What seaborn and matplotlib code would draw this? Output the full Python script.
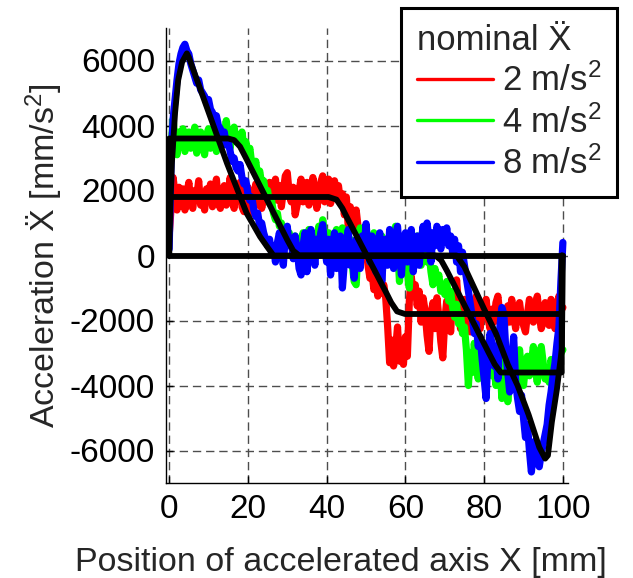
import numpy as np
import pandas as pd
import matplotlib
matplotlib.use("Agg")
import matplotlib.pyplot as plt
import seaborn as sns

# ---------------- data ----------------
series_labels = ["2 m/s$^2$", "4 m/s$^2$", "8 m/s$^2$"]
series_colors = ["#ff0000", "#00ff00", "#0000ff"]

# measured accelerations sampled every 0.5 mm from 0 to 100 mm
pos_mm = np.linspace(0, 100, 201)

acc_2 = [
    600, 1500, 2400, 1900, 1400, 2100, 1600, 2050, 1400, 1900,
    2250, 1650, 1450, 2000, 1800, 2300, 1550, 1900, 1400, 2050,
    1700, 2200, 1500, 1850, 2350, 1600, 1450, 1950, 2150, 1550,
    1850, 2400, 1650, 1450, 2050, 1800, 2250, 1500, 1350, 1900,
    2100, 1600, 1300, 1800, 2200, 1550, 1950, 1450, 1750, 2150,
    1800, 2250, 1600, 1900, 2350, 1700, 2150, 1500, 2000, 2450,
    2550, 1900, 1650, 2100, 1250, 1550, 2000, 2350, 1650, 1900,
    2250, 1550, 1850, 2400, 1950, 1450, 1800, 2250, 2450, 1650,
    2000, 2350, 1600, 1900, 2300, 1750, 2150, 1650, 1900, 1250,
    1800, 850, 1500, 1150, 1000, 1400, 850, 600, 800, 300,
    200, -300, -700, -500, -1050, -800, -1250, -650, -1150, -900,
    -1300, -2200, -3300, -2600, -3400, -2900, -2200, -3250, -2700, -3350,
    -2500, -3100, -1400, -650, -1200, -900, -1550, -1100, -2050, -1300,
    -1700, -2450, -2950, -1800, -1450, -2250, -1300, -1900, -2650, -3150,
    -2000, -1400, -1950, -2350, -1150, -1700, -750, -1500, -2250, -1800,
    -1350, -2150, -1700, -2350, -1900, -1450, -1250, -2050, -2250, -1600,
    -1800, -1350, -1950, -2250, -1650, -2050, -1450, -1250, -1850, -2150,
    -2350, -1900, -1550, -2050, -1350, -1800, -2250, -1650, -1450, -1950,
    -2150, -2350, -1800, -1350, -1700, -2050, -1550, -1250, -1850, -2250,
    -2050, -1450, -1700, -2150, -1350, -1800, -2250, -1550, -1250, -1700,
    -1600,
]

acc_4 = [
    2500, 3300, 4200, 3500, 3100, 3800, 3400, 3900, 3200, 3600,
    3800, 3300, 3600, 3950, 3150, 3500, 3800, 3400, 3100, 3700,
    3900, 3300, 3600, 3800, 3200, 3500, 3900, 3400, 3700, 4150,
    3600, 3300, 3800, 3950, 3500, 3700, 3400, 3800, 3300, 3500,
    3100, 3300, 2800, 2600, 2900, 2400, 2600, 2200, 2300, 1900,
    2000, 1600, 1700, 1300, 1100, 1300, 900, 1000, 600, 800,
    500, 700, 300, 400, 600, 200, 500, 300, 700, 100,
    400, 800, 300, 600, 200, 500, 900, 400, 1100, 600,
    300, 700, 400, -200, 500, 800, 300, 600, 850, 200,
    400, 0, 500, -300, -800, -900, 300, 850, 400, 100,
    500, 200, -200, 400, 700, 100, -300, 300, 600, 200,
    -100, 400, 200, 600, -200, 900, 300, -800, 100, 400,
    200, -500, -1000, 300, 500, 100, 600, 200, -300, 100,
    300, -200, 100, -500, -900, -400, -800, -600, -1100, -900,
    -1200, -800, -1400, -1100, -1600, -1900, -1500, -2100, -1800, -2400,
    -2200, -2900, -4000, -3000, -3600, -2700, -3300, -3800, -3000, -3500,
    -3200, -3800, -3500, -2900, -3700, -3400, -4000, -3600, -3200, -4400,
    -3800, -3300, -4500, -3700, -3100, -3500, -3900, -3300, -2900, -3600,
    -4000, -3400, -3100, -3700, -3300, -2800, -3500, -3900, -3200, -2800,
    -3300, -3800, -3500, -3900, -3200, -3600, -3300, -3000, -3400, -3000,
    -2900,
]

acc_8 = [
    200, 3000, 4200, 4800, 5400, 5900, 6200, 6400, 6500, 6300,
    6200, 5900, 5700, 5500, 5300, 5400, 5100, 5000, 4900, 4700,
    4800, 4500, 4400, 4200, 4300, 4000, 3900, 3700, 3800, 3400,
    3500, 3200, 2900, 3000, 2700, 2600, 2800, 2400, 2200, 2300,
    1900, 1700, 1800, 1400, 1200, 1300, 900, 1000, 700, 500,
    300, 500, 100, 300, -200, 400, 700, 200, -300, 600,
    900, 300, 500, -100, 600, 200, -400, -600, 300, 700,
    -500, 200, 800, 400, -300, 500, 100, 700, 950, 300,
    -200, 500, -600, 300, 700, -400, 200, 600, -1000, -200,
    400, 800, -300, 300, -700, 500, 200, -400, 600, 100,
    980, 300, -200, 600, 200, -500, 400, 700, -800, 100,
    500, -300, 800, 200, -400, 600, 900, 100, -600, 400,
    700, -200, 300, 800, -500, 200, 600, -300, 400, 900,
    200, 1000, 500, -200, 700, 300, 900, 600, 200, 800,
    400, 850, 300, 600, 100, 500, -200, 300, -500, 100,
    -300, -700, -1100, -1500, -1900, -2400, -2100, -2800, -2500, -3200,
    -3800, -4400, -3000, -2400, -2700, -3400, -3000, -3800, -2200, -1600,
    -1800, -2900, -3600, -4200, -3200, -2500, -3900, -4400, -4800, -4300,
    -5000, -5600, -5200, -6000, -6660, -6100, -5700, -6300, -6500, -6100,
    -5800, -5500, -5200, -4600, -4200, -3700, -3300, -2700, -2200, -800,
    400,
]

# nominal (theoretical) accelerations
nom2_x = [0, 0, 40.5, 42.5, 44, 45.1, 50.2, 55.3, 56.4, 57.9, 59.9, 99.7, 99.7]
nom2_y = [0, 1800, 1800, 1720, 1450, 1185, 0, -1185, -1450, -1720, -1800, -1800, 0]

nom4_x = [0, 0, 15, 16.5, 18, 19.5, 30, 31.5, 33, 67.6, 69.1, 70.6, 81.2, 82.7, 84.2, 99.7, 99.7]
nom4_y = [0, 3600, 3600, 3550, 3350, 3000, 480, 150, 0, 0, -150, -480, -3000, -3350, -3600, -3600, 0]

nom8_x = [0, 0.3, 0.7, 1.5, 2.3, 3.3, 4.5, 5.0, 8.6, 14.7, 19.7, 23.1, 25, 26.5,
          73, 75, 77.5, 80, 83, 86, 88.5, 91.3, 94, 95.5, 96.2, 97.2, 98.5, 99.3, 99.75, 100]
nom8_y = [0, 1500, 2846, 4385, 5400, 5954, 6220, 6100, 4886, 2836, 1298, 578, 250, 0,
          0, -350, -1000, -1650, -2400, -3350, -4000, -4900, -5900, -6250, -6150, -5123, -4100, -3300, -2870, 0]

zero_x = [0, 100]
zero_y = [0, 0]

x_ticks = [0, 20, 40, 60, 80, 100]
y_ticks = [-6000, -4000, -2000, 0, 2000, 4000, 6000]

# ---------------- plotting ----------------
sns.set_theme(style="white")
plt.rcParams["font.family"] = ["Liberation Sans", "DejaVu Sans"]
plt.rcParams["mathtext.fontset"] = "custom"
plt.rcParams["mathtext.rm"] = "Liberation Sans"
plt.rcParams["mathtext.it"] = "Liberation Sans"
plt.rcParams["axes.unicode_minus"] = False

TICK_FS = 24
LABEL_FS = 24.5
LEG_FS = 25

W, H = 633, 578
fig = plt.figure(figsize=(W / 100, H / 100), dpi=100)
ax_l, ax_r, ax_t, ax_b = 166, 568, 28, 483
ax = fig.add_axes([ax_l / W, 1 - ax_b / H, (ax_r - ax_l) / W, (ax_b - ax_t) / H])

meas = pd.DataFrame({
    "pos": np.concatenate([pos_mm] * 3),
    "acc": np.concatenate([acc_2, acc_4, acc_8]),
    "series": np.repeat(series_labels, len(pos_mm)),
})
sns.lineplot(data=meas, x="pos", y="acc", hue="series", hue_order=series_labels,
             palette=dict(zip(series_labels, series_colors)), estimator=None,
             sort=False, linewidth=5.2, legend=False, ax=ax)

nom = pd.DataFrame({
    "pos": nom2_x + nom4_x + nom8_x + zero_x,
    "acc": nom2_y + nom4_y + nom8_y + zero_y,
    "curve": ["n2"] * len(nom2_x) + ["n4"] * len(nom4_x) + ["n8"] * len(nom8_x) + ["z"] * len(zero_x),
})
sns.lineplot(data=nom, x="pos", y="acc", units="curve", color="black", estimator=None,
             sort=False, linewidth=4.2, legend=False, ax=ax,
             solid_joinstyle="round", solid_capstyle="round")

ax.set_xlim(-0.8, 101.3)
ax.set_ylim(-7000, 7000)
ax.set_xticks(x_ticks)
ax.set_yticks(y_ticks)
ax.set_xticklabels([str(v) for v in x_ticks])
ax.set_yticklabels([str(v) for v in y_ticks])
ax.grid(True, color="0.3", linestyle=(0, (6, 3.5)), linewidth=1.0)
ax.set_axisbelow(True)
for s in ["top", "right"]:
    ax.spines[s].set_visible(False)
for s in ["left", "bottom"]:
    ax.spines[s].set_color("black")
    ax.spines[s].set_linewidth(1.0)
ax.tick_params(axis="both", direction="in", length=5, width=1, colors="black",
               labelsize=TICK_FS, pad=8, left=True, bottom=True)

ax.set_xlabel("Position of accelerated axis X [mm]", fontsize=LABEL_FS)
ax.xaxis.set_label_coords((75 - ax_l) / (ax_r - ax_l), (ax_b - 571.5) / (ax_b - ax_t))
ax.xaxis.label.set_ha("left")
ax.xaxis.label.set_va("baseline")

ax.set_ylabel("Acceleration \u1E8C [mm/s$^2$]", fontsize=LABEL_FS)
ax.yaxis.set_label_coords((44 - ax_l) / (ax_r - ax_l), 0.5)
ax.yaxis.label.set_ha("center")
ax.yaxis.label.set_va("center")

handles = [plt.Line2D([], [], color=c, linewidth=2.4) for c in series_colors]
leg = fig.legend(handles, series_labels, title="nominal \u1E8C", loc="upper right",
                 bbox_to_anchor=(617 / W, 1 - 8 / H), fontsize=LEG_FS, title_fontsize=LEG_FS,
                 frameon=True, fancybox=False, edgecolor="black", framealpha=1,
                 handlelength=2.2, handletextpad=0.25, labelspacing=0.2,
                 borderpad=0.45, borderaxespad=0, alignment="left")
leg.get_frame().set_linewidth(2.2)

fig.savefig("out.png", dpi=100)
